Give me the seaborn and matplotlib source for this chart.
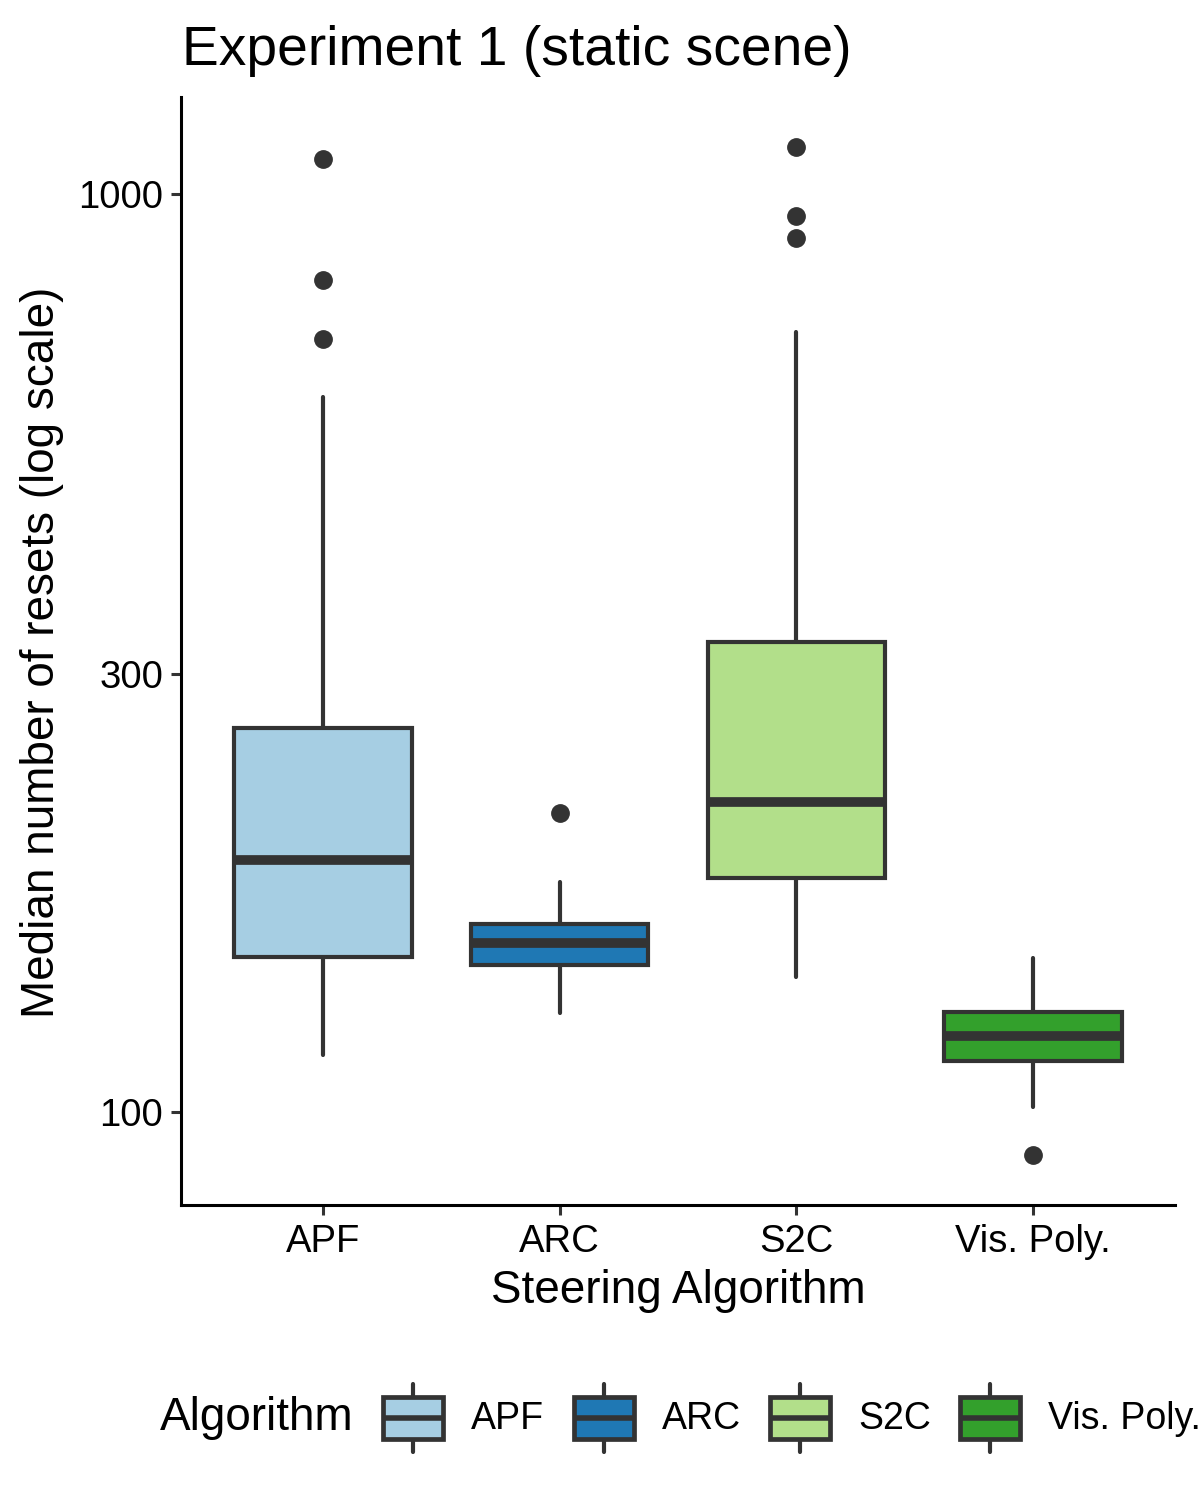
import matplotlib
matplotlib.use("Agg")
import matplotlib.pyplot as plt
from matplotlib.legend_handler import HandlerBase
from matplotlib.lines import Line2D
from matplotlib.patches import Rectangle
from matplotlib.ticker import NullLocator
import numpy as np
import seaborn as sns

# box statistics (resets, log scale)
algorithms = ["APF", "ARC", "S2C", "Vis. Poly."]
whisker_low = [115.4, 128.2, 140.3, 101.3]
q1 = [147.5, 144.6, 179.8, 113.7]
median = [188.0, 152.8, 217.6, 121.0]
q3 = [262.0, 160.0, 325.0, 128.5]
whisker_high = [601.0, 178.0, 707.0, 147.0]
outliers = [[1092, 806, 695], [211.7], [1125, 946, 896], [89.8]]
y_ticks = [100, 300, 1000]

EDGE = "#333333"


class BoxKey(HandlerBase):
    # ggplot-like boxplot legend glyph
    def create_artists(self, legend, orig_handle, xdescent, ydescent,
                       width, height, fontsize, trans):
        x0, y0 = -xdescent, -ydescent
        xc = x0 + width / 2
        whisk = Line2D([xc, xc], [y0 + 0.03 * height, y0 + 0.97 * height],
                       color=EDGE, lw=3, solid_capstyle="round", transform=trans)
        box = Rectangle((x0, y0 + 0.21 * height), width, 0.58 * height,
                        facecolor=orig_handle.get_facecolor(), edgecolor=EDGE,
                        lw=3.4, transform=trans)
        med = Line2D([x0, x0 + width], [y0 + height / 2] * 2,
                     color=EDGE, lw=4, solid_capstyle="butt", transform=trans)
        return [whisk, box, med]


def main():
    sns.set_style("ticks")
    plt.rcParams["font.family"] = ["Liberation Sans", "DejaVu Sans"]
    plt.rcParams["text.color"] = "black"
    plt.rcParams["axes.labelcolor"] = "black"
    palette = sns.color_palette("Paired", len(algorithms))

    fig = plt.figure(figsize=(12, 15), dpi=100)
    ax = fig.add_axes([181 / 1200, 1 - 1205 / 1500, 994 / 1200, 1108 / 1500])
    ax.set_yscale("log")

    stats = []
    for i, name in enumerate(algorithms):
        stats.append({"label": name, "whislo": whisker_low[i], "q1": q1[i],
                      "med": median[i], "q3": q3[i], "whishi": whisker_high[i],
                      "fliers": outliers[i]})
    bp = ax.bxp(stats, positions=range(len(algorithms)), widths=0.75,
                patch_artist=True, showcaps=False,
                boxprops=dict(edgecolor=EDGE, linewidth=3),
                medianprops=dict(color=EDGE, linewidth=7, solid_capstyle="butt"),
                whiskerprops=dict(color=EDGE, linewidth=3),
                flierprops=dict(marker="o", markerfacecolor=EDGE,
                                markeredgecolor=EDGE, markersize=12.5))
    for patch, col in zip(bp["boxes"], palette):
        patch.set_facecolor(col)

    # limits: 5% expansion of the data range on log scale, like ggplot
    all_vals = np.log10(whisker_low + whisker_high + sum(outliers, []))
    lo, hi = all_vals.min(), all_vals.max()
    pad = 0.05 * (hi - lo)
    ax.set_ylim(10 ** (lo - pad), 10 ** (hi + pad))
    ax.set_xlim(-0.6, len(algorithms) - 0.4)

    ax.set_yticks(y_ticks)
    ax.set_yticklabels([str(t) for t in y_ticks])
    ax.yaxis.set_minor_locator(NullLocator())
    ax.set_xticks(range(len(algorithms)))
    ax.set_xticklabels(algorithms)
    ax.tick_params(axis="both", direction="out", length=7, width=2.2,
                   color=EDGE, labelcolor="black", labelsize=27.5)
    ax.tick_params(axis="x", pad=7)
    ax.tick_params(axis="y", pad=6)

    sns.despine(ax=ax)
    for side in ["left", "bottom"]:
        ax.spines[side].set_color("black")
        ax.spines[side].set_linewidth(2.2)

    ax.set_xlabel("Steering Algorithm", fontsize=33, labelpad=6)
    ax.set_ylabel("")
    fig.text(42 / 1200, 1 - 652 / 1500, "Median number of resets (log scale)",
             rotation=90, ha="center", va="center", fontsize=33)
    fig.text(182 / 1200, 1 - 65 / 1500, "Experiment 1 (static scene)",
             ha="left", va="baseline", fontsize=39.7)

    # legend along the bottom, title on the left
    fig.text(160 / 1200, 1 - 1418 / 1500, "Algorithm", ha="left",
             va="center", fontsize=33)
    handles = [Rectangle((0, 0), 1, 1, facecolor=c) for c in palette]
    fig.legend(handles, algorithms, handler_map={Rectangle: BoxKey()},
               loc="center left", bbox_to_anchor=(383 / 1200, 1 - 1418 / 1500),
               ncol=len(algorithms), frameon=False, fontsize=27,
               handlelength=1.6, handleheight=2.56, handletextpad=0.75,
               columnspacing=0.78, borderpad=0, borderaxespad=0)

    fig.savefig("out.png", dpi=100)


if __name__ == "__main__":
    main()
